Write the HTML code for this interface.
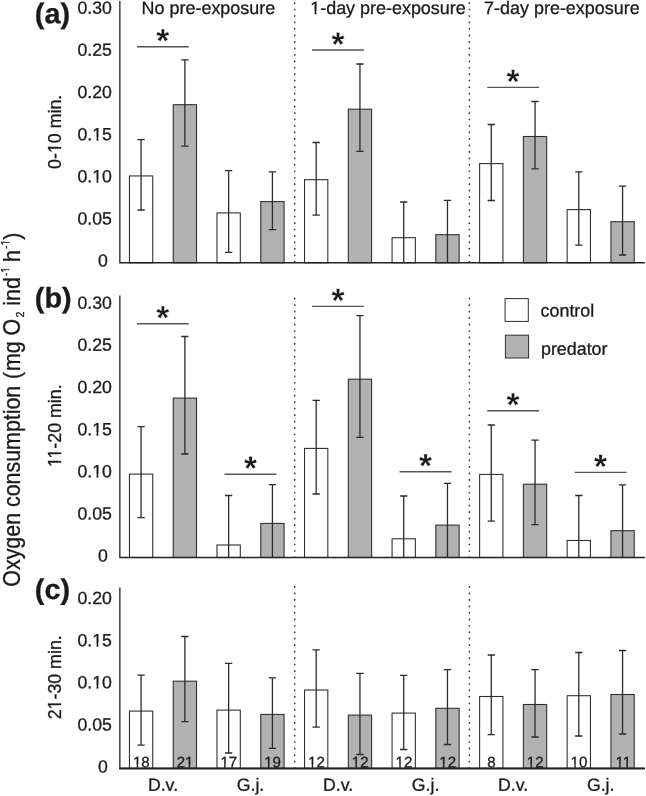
<!DOCTYPE html>
<html lang="en"><head><meta charset="utf-8"><title>Oxygen consumption</title>
<style>html,body{margin:0;padding:0;background:#fff}svg{display:block}text{font-family:"Liberation Sans",sans-serif;fill:#1a1a1a;stroke:#1a1a1a;stroke-width:.3px}</style></head><body>
<svg width="646" height="796" viewBox="0 0 646 796">
<rect width="646" height="796" fill="#fff"/>
<line x1="294.7" y1="2.2" x2="294.7" y2="262" stroke="#3a3a3a" stroke-width="1.45" stroke-dasharray="1.7 4.77"/>
<line x1="469.4" y1="2.2" x2="469.4" y2="262" stroke="#3a3a3a" stroke-width="1.45" stroke-dasharray="1.7 4.77"/>
<rect x="129.45" y="175.95" width="23.3" height="86.8" fill="#fff" stroke="#2e2e2e" stroke-width="1.08"/>
<rect x="173.22" y="104.7" width="23.3" height="158.05" fill="#b1b1b1" stroke="#2e2e2e" stroke-width="1.08"/>
<rect x="216.99" y="212.9" width="23.3" height="49.85" fill="#fff" stroke="#2e2e2e" stroke-width="1.08"/>
<rect x="260.76" y="201.6" width="23.3" height="61.15" fill="#b1b1b1" stroke="#2e2e2e" stroke-width="1.08"/>
<rect x="304.53" y="179.7" width="23.3" height="83.05" fill="#fff" stroke="#2e2e2e" stroke-width="1.08"/>
<rect x="348.3" y="109.2" width="23.3" height="153.55" fill="#b1b1b1" stroke="#2e2e2e" stroke-width="1.08"/>
<rect x="392.07" y="237.7" width="23.3" height="25.05" fill="#fff" stroke="#2e2e2e" stroke-width="1.08"/>
<rect x="435.84" y="234.7" width="23.3" height="28.05" fill="#b1b1b1" stroke="#2e2e2e" stroke-width="1.08"/>
<rect x="479.61" y="163.6" width="23.3" height="99.15" fill="#fff" stroke="#2e2e2e" stroke-width="1.08"/>
<rect x="523.38" y="136.5" width="23.3" height="126.25" fill="#b1b1b1" stroke="#2e2e2e" stroke-width="1.08"/>
<rect x="567.15" y="209.6" width="23.3" height="53.15" fill="#fff" stroke="#2e2e2e" stroke-width="1.08"/>
<rect x="610.92" y="221.7" width="23.3" height="41.05" fill="#b1b1b1" stroke="#2e2e2e" stroke-width="1.08"/>
<path d="M137.45 139.7H144.75M141.1 139.7V210M137.45 210H144.75" fill="none" stroke="#2b2b2b" stroke-width="1.3"/>
<path d="M181.22 59.8H188.52M184.87 59.8V146.2M181.22 146.2H188.52" fill="none" stroke="#2b2b2b" stroke-width="1.3"/>
<path d="M224.99 170.6H232.29M228.64 170.6V252.3M224.99 252.3H232.29" fill="none" stroke="#2b2b2b" stroke-width="1.3"/>
<path d="M268.76 171.8H276.06M272.41 171.8V229.6M268.76 229.6H276.06" fill="none" stroke="#2b2b2b" stroke-width="1.3"/>
<path d="M312.53 142.5H319.83M316.18 142.5V215.1M312.53 215.1H319.83" fill="none" stroke="#2b2b2b" stroke-width="1.3"/>
<path d="M356.3 64H363.6M359.95 64V151.3M356.3 151.3H363.6" fill="none" stroke="#2b2b2b" stroke-width="1.3"/>
<path d="M400.07 202H407.37M403.72 202V262.75" fill="none" stroke="#2b2b2b" stroke-width="1.3"/>
<path d="M443.84 200.3H451.14M447.49 200.3V262.75" fill="none" stroke="#2b2b2b" stroke-width="1.3"/>
<path d="M487.61 124.5H494.91M491.26 124.5V200.5M487.61 200.5H494.91" fill="none" stroke="#2b2b2b" stroke-width="1.3"/>
<path d="M531.38 101.5H538.68M535.03 101.5V168.8M531.38 168.8H538.68" fill="none" stroke="#2b2b2b" stroke-width="1.3"/>
<path d="M575.15 171.8H582.45M578.8 171.8V245.2M575.15 245.2H582.45" fill="none" stroke="#2b2b2b" stroke-width="1.3"/>
<path d="M618.92 186.1H626.22M622.57 186.1V255M618.92 255H626.22" fill="none" stroke="#2b2b2b" stroke-width="1.3"/>
<path d="M119.85 1V262.75H644.9" fill="none" stroke="#222" stroke-width="1.3" stroke-linejoin="miter"/>
<line x1="137" y1="46.7" x2="188.87" y2="46.7" stroke="#555" stroke-width="1.4"/>
<g transform="translate(162.84 52.1) rotate(0.03)"><text font-size="33.3" font-weight="bold" text-anchor="middle" style="stroke:#fff;stroke-width:.3px">*</text></g>
<line x1="312.08" y1="50" x2="363.95" y2="50" stroke="#555" stroke-width="1.4"/>
<g transform="translate(337.92 55.4) rotate(0.03)"><text font-size="33.3" font-weight="bold" text-anchor="middle" style="stroke:#fff;stroke-width:.3px">*</text></g>
<line x1="487.16" y1="87.4" x2="539.03" y2="87.4" stroke="#555" stroke-width="1.4"/>
<g transform="translate(513 92.8) rotate(0.03)"><text font-size="33.3" font-weight="bold" text-anchor="middle" style="stroke:#fff;stroke-width:.3px">*</text></g>
<line x1="294.7" y1="297.8" x2="294.7" y2="557" stroke="#3a3a3a" stroke-width="1.45" stroke-dasharray="1.7 4.77"/>
<line x1="469.4" y1="297.8" x2="469.4" y2="557" stroke="#3a3a3a" stroke-width="1.45" stroke-dasharray="1.7 4.77"/>
<rect x="129.45" y="474.1" width="23.3" height="83.4" fill="#fff" stroke="#2e2e2e" stroke-width="1.08"/>
<rect x="173.22" y="398.1" width="23.3" height="159.4" fill="#b1b1b1" stroke="#2e2e2e" stroke-width="1.08"/>
<rect x="216.99" y="545" width="23.3" height="12.5" fill="#fff" stroke="#2e2e2e" stroke-width="1.08"/>
<rect x="260.76" y="523.4" width="23.3" height="34.1" fill="#b1b1b1" stroke="#2e2e2e" stroke-width="1.08"/>
<rect x="304.53" y="448.4" width="23.3" height="109.1" fill="#fff" stroke="#2e2e2e" stroke-width="1.08"/>
<rect x="348.3" y="379.2" width="23.3" height="178.3" fill="#b1b1b1" stroke="#2e2e2e" stroke-width="1.08"/>
<rect x="392.07" y="538.8" width="23.3" height="18.7" fill="#fff" stroke="#2e2e2e" stroke-width="1.08"/>
<rect x="435.84" y="525.1" width="23.3" height="32.4" fill="#b1b1b1" stroke="#2e2e2e" stroke-width="1.08"/>
<rect x="479.61" y="474.4" width="23.3" height="83.1" fill="#fff" stroke="#2e2e2e" stroke-width="1.08"/>
<rect x="523.38" y="484.2" width="23.3" height="73.3" fill="#b1b1b1" stroke="#2e2e2e" stroke-width="1.08"/>
<rect x="567.15" y="540.5" width="23.3" height="17" fill="#fff" stroke="#2e2e2e" stroke-width="1.08"/>
<rect x="610.92" y="530.7" width="23.3" height="26.8" fill="#b1b1b1" stroke="#2e2e2e" stroke-width="1.08"/>
<path d="M137.45 426.6H144.75M141.1 426.6V517.6M137.45 517.6H144.75" fill="none" stroke="#2b2b2b" stroke-width="1.3"/>
<path d="M181.22 336.5H188.52M184.87 336.5V454M181.22 454H188.52" fill="none" stroke="#2b2b2b" stroke-width="1.3"/>
<path d="M224.99 495.5H232.29M228.64 495.5V557.5" fill="none" stroke="#2b2b2b" stroke-width="1.3"/>
<path d="M268.76 484.7H276.06M272.41 484.7V557.5" fill="none" stroke="#2b2b2b" stroke-width="1.3"/>
<path d="M312.53 400.3H319.83M316.18 400.3V494M312.53 494H319.83" fill="none" stroke="#2b2b2b" stroke-width="1.3"/>
<path d="M356.3 315.7H363.6M359.95 315.7V437.3M356.3 437.3H363.6" fill="none" stroke="#2b2b2b" stroke-width="1.3"/>
<path d="M400.07 496H407.37M403.72 496V557.5" fill="none" stroke="#2b2b2b" stroke-width="1.3"/>
<path d="M443.84 483.4H451.14M447.49 483.4V557.5" fill="none" stroke="#2b2b2b" stroke-width="1.3"/>
<path d="M487.61 425H494.91M491.26 425V521.1M487.61 521.1H494.91" fill="none" stroke="#2b2b2b" stroke-width="1.3"/>
<path d="M531.38 440.1H538.68M535.03 440.1V524.6M531.38 524.6H538.68" fill="none" stroke="#2b2b2b" stroke-width="1.3"/>
<path d="M575.15 495.5H582.45M578.8 495.5V557.5" fill="none" stroke="#2b2b2b" stroke-width="1.3"/>
<path d="M618.92 484.9H626.22M622.57 484.9V557.5" fill="none" stroke="#2b2b2b" stroke-width="1.3"/>
<path d="M119.85 295.6V557.5H644.9" fill="none" stroke="#222" stroke-width="1.3" stroke-linejoin="miter"/>
<line x1="137" y1="323.7" x2="188.87" y2="323.7" stroke="#555" stroke-width="1.4"/>
<g transform="translate(162.84 329.1) rotate(0.03)"><text font-size="33.3" font-weight="bold" text-anchor="middle" style="stroke:#fff;stroke-width:.3px">*</text></g>
<line x1="224.54" y1="474.2" x2="276.41" y2="474.2" stroke="#555" stroke-width="1.4"/>
<g transform="translate(250.37 479.6) rotate(0.03)"><text font-size="33.3" font-weight="bold" text-anchor="middle" style="stroke:#fff;stroke-width:.3px">*</text></g>
<line x1="312.08" y1="306.4" x2="363.95" y2="306.4" stroke="#555" stroke-width="1.4"/>
<g transform="translate(337.92 311.8) rotate(0.03)"><text font-size="33.3" font-weight="bold" text-anchor="middle" style="stroke:#fff;stroke-width:.3px">*</text></g>
<line x1="399.62" y1="471.7" x2="451.49" y2="471.7" stroke="#555" stroke-width="1.4"/>
<g transform="translate(425.46 477.1) rotate(0.03)"><text font-size="33.3" font-weight="bold" text-anchor="middle" style="stroke:#fff;stroke-width:.3px">*</text></g>
<line x1="487.16" y1="410.7" x2="539.03" y2="410.7" stroke="#555" stroke-width="1.4"/>
<g transform="translate(513 416.1) rotate(0.03)"><text font-size="33.3" font-weight="bold" text-anchor="middle" style="stroke:#fff;stroke-width:.3px">*</text></g>
<line x1="574.7" y1="472.4" x2="626.57" y2="472.4" stroke="#555" stroke-width="1.4"/>
<g transform="translate(600.54 477.8) rotate(0.03)"><text font-size="33.3" font-weight="bold" text-anchor="middle" style="stroke:#fff;stroke-width:.3px">*</text></g>
<line x1="294.7" y1="586.1" x2="294.7" y2="768" stroke="#3a3a3a" stroke-width="1.45" stroke-dasharray="1.7 4.77"/>
<line x1="469.4" y1="586.1" x2="469.4" y2="768" stroke="#3a3a3a" stroke-width="1.45" stroke-dasharray="1.7 4.77"/>
<rect x="129.45" y="711.1" width="23.3" height="57.3" fill="#fff" stroke="#2e2e2e" stroke-width="1.08"/>
<rect x="173.22" y="681.2" width="23.3" height="87.2" fill="#b1b1b1" stroke="#2e2e2e" stroke-width="1.08"/>
<rect x="216.99" y="710.1" width="23.3" height="58.3" fill="#fff" stroke="#2e2e2e" stroke-width="1.08"/>
<rect x="260.76" y="714.4" width="23.3" height="54" fill="#b1b1b1" stroke="#2e2e2e" stroke-width="1.08"/>
<rect x="304.53" y="690" width="23.3" height="78.4" fill="#fff" stroke="#2e2e2e" stroke-width="1.08"/>
<rect x="348.3" y="715.1" width="23.3" height="53.3" fill="#b1b1b1" stroke="#2e2e2e" stroke-width="1.08"/>
<rect x="392.07" y="713.1" width="23.3" height="55.3" fill="#fff" stroke="#2e2e2e" stroke-width="1.08"/>
<rect x="435.84" y="708.3" width="23.3" height="60.1" fill="#b1b1b1" stroke="#2e2e2e" stroke-width="1.08"/>
<rect x="479.61" y="696.5" width="23.3" height="71.9" fill="#fff" stroke="#2e2e2e" stroke-width="1.08"/>
<rect x="523.38" y="704.5" width="23.3" height="63.9" fill="#b1b1b1" stroke="#2e2e2e" stroke-width="1.08"/>
<rect x="567.15" y="695.7" width="23.3" height="72.7" fill="#fff" stroke="#2e2e2e" stroke-width="1.08"/>
<rect x="610.92" y="694.5" width="23.3" height="73.9" fill="#b1b1b1" stroke="#2e2e2e" stroke-width="1.08"/>
<path d="M137.45 675.1H144.75M141.1 675.1V745.2M137.45 745.2H144.75" fill="none" stroke="#2b2b2b" stroke-width="1.3"/>
<path d="M181.22 636.5H188.52M184.87 636.5V721.6M181.22 721.6H188.52" fill="none" stroke="#2b2b2b" stroke-width="1.3"/>
<path d="M224.99 663.3H232.29M228.64 663.3V753M224.99 753H232.29" fill="none" stroke="#2b2b2b" stroke-width="1.3"/>
<path d="M268.76 677.9H276.06M272.41 677.9V748.3M268.76 748.3H276.06" fill="none" stroke="#2b2b2b" stroke-width="1.3"/>
<path d="M312.53 649.8H319.83M316.18 649.8V727.2M312.53 727.2H319.83" fill="none" stroke="#2b2b2b" stroke-width="1.3"/>
<path d="M356.3 673.4H363.6M359.95 673.4V754.5M356.3 754.5H363.6" fill="none" stroke="#2b2b2b" stroke-width="1.3"/>
<path d="M400.07 675.4H407.37M403.72 675.4V749.5M400.07 749.5H407.37" fill="none" stroke="#2b2b2b" stroke-width="1.3"/>
<path d="M443.84 669.6H451.14M447.49 669.6V744.5M443.84 744.5H451.14" fill="none" stroke="#2b2b2b" stroke-width="1.3"/>
<path d="M487.61 655H494.91M491.26 655V734.7M487.61 734.7H494.91" fill="none" stroke="#2b2b2b" stroke-width="1.3"/>
<path d="M531.38 669.6H538.68M535.03 669.6V737M531.38 737H538.68" fill="none" stroke="#2b2b2b" stroke-width="1.3"/>
<path d="M575.15 652.5H582.45M578.8 652.5V736M575.15 736H582.45" fill="none" stroke="#2b2b2b" stroke-width="1.3"/>
<path d="M618.92 650.5H626.22M622.57 650.5V734M618.92 734H626.22" fill="none" stroke="#2b2b2b" stroke-width="1.3"/>
<g transform="translate(141.3 767.2) rotate(0.03)"><text font-size="15.1" text-anchor="middle">18</text><rect x="-8.15" y="-2.73" width="3.4" height="3.93" fill="#fff"/><rect x="-3.12" y="-2.73" width="3.18" height="3.93" fill="#fff"/></g>
<g transform="translate(185.07 767.2) rotate(0.03)"><text font-size="15.1" text-anchor="middle">21</text><rect x="0.24" y="-2.73" width="3.4" height="3.93" fill="#b1b1b1"/><rect x="5.27" y="-2.73" width="3.18" height="3.93" fill="#b1b1b1"/></g>
<g transform="translate(228.84 767.2) rotate(0.03)"><text font-size="15.1" text-anchor="middle">17</text><rect x="-8.15" y="-2.73" width="3.4" height="3.93" fill="#fff"/><rect x="-3.12" y="-2.73" width="3.18" height="3.93" fill="#fff"/></g>
<g transform="translate(272.61 767.2) rotate(0.03)"><text font-size="15.1" text-anchor="middle">19</text><rect x="-8.15" y="-2.73" width="3.4" height="3.93" fill="#b1b1b1"/><rect x="-3.12" y="-2.73" width="3.18" height="3.93" fill="#b1b1b1"/></g>
<g transform="translate(316.38 767.2) rotate(0.03)"><text font-size="15.1" text-anchor="middle">12</text><rect x="-8.15" y="-2.73" width="3.4" height="3.93" fill="#fff"/><rect x="-3.12" y="-2.73" width="3.18" height="3.93" fill="#fff"/></g>
<g transform="translate(360.15 767.2) rotate(0.03)"><text font-size="15.1" text-anchor="middle">12</text><rect x="-8.15" y="-2.73" width="3.4" height="3.93" fill="#b1b1b1"/><rect x="-3.12" y="-2.73" width="3.18" height="3.93" fill="#b1b1b1"/></g>
<g transform="translate(403.92 767.2) rotate(0.03)"><text font-size="15.1" text-anchor="middle">12</text><rect x="-8.15" y="-2.73" width="3.4" height="3.93" fill="#fff"/><rect x="-3.12" y="-2.73" width="3.18" height="3.93" fill="#fff"/></g>
<g transform="translate(447.69 767.2) rotate(0.03)"><text font-size="15.1" text-anchor="middle">12</text><rect x="-8.15" y="-2.73" width="3.4" height="3.93" fill="#b1b1b1"/><rect x="-3.12" y="-2.73" width="3.18" height="3.93" fill="#b1b1b1"/></g>
<g transform="translate(491.46 767.2) rotate(0.03)"><text font-size="15.1" text-anchor="middle">8</text></g>
<g transform="translate(535.23 767.2) rotate(0.03)"><text font-size="15.1" text-anchor="middle">12</text><rect x="-8.15" y="-2.73" width="3.4" height="3.93" fill="#b1b1b1"/><rect x="-3.12" y="-2.73" width="3.18" height="3.93" fill="#b1b1b1"/></g>
<g transform="translate(579 767.2) rotate(0.03)"><text font-size="15.1" text-anchor="middle">10</text><rect x="-8.15" y="-2.73" width="3.4" height="3.93" fill="#fff"/><rect x="-3.12" y="-2.73" width="3.18" height="3.93" fill="#fff"/></g>
<g transform="translate(623.27 767.2) rotate(0.03)"><text font-size="15.1" text-anchor="middle">11</text><rect x="-7.59" y="-2.73" width="3.4" height="3.93" fill="#b1b1b1"/><rect x="-2.55" y="-2.73" width="3.18" height="3.93" fill="#b1b1b1"/><rect x="-0.32" y="-2.73" width="3.4" height="3.93" fill="#b1b1b1"/><rect x="4.71" y="-2.73" width="3.18" height="3.93" fill="#b1b1b1"/></g>
<path d="M119.85 587.6V768.4H644.9" fill="none" stroke="#222" stroke-width="1.3" stroke-linejoin="miter"/>
<line x1="119.25" y1="768.4" x2="644.9" y2="768.4" stroke="#222" stroke-width="2"/>
<g transform="translate(107.9 266.6) rotate(0.03)"><text font-size="17.7" text-anchor="end">0</text></g>
<g transform="translate(111.9 224.45) rotate(0.03)"><text font-size="17.7" text-anchor="end">0.05</text></g>
<g transform="translate(111.9 182.3) rotate(0.03)"><text font-size="17.7" text-anchor="end">0.10</text><rect x="-19.24" y="-2.92" width="3.85" height="4.12" fill="#fff"/><rect x="-13.52" y="-2.92" width="3.61" height="4.12" fill="#fff"/></g>
<g transform="translate(111.9 140.15) rotate(0.03)"><text font-size="17.7" text-anchor="end">0.15</text><rect x="-19.24" y="-2.92" width="3.85" height="4.12" fill="#fff"/><rect x="-13.52" y="-2.92" width="3.61" height="4.12" fill="#fff"/></g>
<g transform="translate(111.9 98) rotate(0.03)"><text font-size="17.7" text-anchor="end">0.20</text></g>
<g transform="translate(111.9 55.85) rotate(0.03)"><text font-size="17.7" text-anchor="end">0.25</text></g>
<g transform="translate(111.9 13.7) rotate(0.03)"><text font-size="17.7" text-anchor="end">0.30</text></g>
<g transform="translate(107.9 561.6) rotate(0.03)"><text font-size="17.7" text-anchor="end">0</text></g>
<g transform="translate(111.9 519.45) rotate(0.03)"><text font-size="17.7" text-anchor="end">0.05</text></g>
<g transform="translate(111.9 477.3) rotate(0.03)"><text font-size="17.7" text-anchor="end">0.10</text><rect x="-19.24" y="-2.92" width="3.85" height="4.12" fill="#fff"/><rect x="-13.52" y="-2.92" width="3.61" height="4.12" fill="#fff"/></g>
<g transform="translate(111.9 435.15) rotate(0.03)"><text font-size="17.7" text-anchor="end">0.15</text><rect x="-19.24" y="-2.92" width="3.85" height="4.12" fill="#fff"/><rect x="-13.52" y="-2.92" width="3.61" height="4.12" fill="#fff"/></g>
<g transform="translate(111.9 393) rotate(0.03)"><text font-size="17.7" text-anchor="end">0.20</text></g>
<g transform="translate(111.9 350.85) rotate(0.03)"><text font-size="17.7" text-anchor="end">0.25</text></g>
<g transform="translate(111.9 308.7) rotate(0.03)"><text font-size="17.7" text-anchor="end">0.30</text></g>
<g transform="translate(107.9 772.6) rotate(0.03)"><text font-size="17.7" text-anchor="end">0</text></g>
<g transform="translate(111.9 730.45) rotate(0.03)"><text font-size="17.7" text-anchor="end">0.05</text></g>
<g transform="translate(111.9 688.3) rotate(0.03)"><text font-size="17.7" text-anchor="end">0.10</text><rect x="-19.24" y="-2.92" width="3.85" height="4.12" fill="#fff"/><rect x="-13.52" y="-2.92" width="3.61" height="4.12" fill="#fff"/></g>
<g transform="translate(111.9 646.15) rotate(0.03)"><text font-size="17.7" text-anchor="end">0.15</text><rect x="-19.24" y="-2.92" width="3.85" height="4.12" fill="#fff"/><rect x="-13.52" y="-2.92" width="3.61" height="4.12" fill="#fff"/></g>
<g transform="translate(111.9 604) rotate(0.03)"><text font-size="17.7" text-anchor="end">0.20</text></g>
<g transform="translate(34.8 23.3) scale(1.02 1) rotate(0.03)"><text font-size="28.3" font-weight="bold">(a)</text></g>
<g transform="translate(34.8 307.5) scale(1.02 1) rotate(0.03)"><text font-size="28.3" font-weight="bold">(b)</text></g>
<g transform="translate(34.8 599.1) scale(1.02 1) rotate(0.03)"><text font-size="28.3" font-weight="bold">(c)</text></g>
<g transform="translate(61.2 168.9) scale(1.04 1) rotate(-90)"><text font-size="17.8">0-10 min.</text><rect x="16.26" y="-2.93" width="3.87" height="4.13" fill="#fff"/><rect x="22.01" y="-2.93" width="3.63" height="4.13" fill="#fff"/></g>
<g transform="translate(61.2 467.1) scale(1.04 1) rotate(-90)"><text font-size="17.8">11-20 min.</text><rect x="0.46" y="-2.93" width="3.87" height="4.13" fill="#fff"/><rect x="6.2" y="-2.93" width="3.63" height="4.13" fill="#fff"/><rect x="9.02" y="-2.93" width="3.87" height="4.13" fill="#fff"/><rect x="14.76" y="-2.93" width="3.63" height="4.13" fill="#fff"/></g>
<g transform="translate(61.2 719.3) scale(1.04 1) rotate(-90)"><text font-size="17.8">21-30 min.</text><rect x="10.33" y="-2.93" width="3.87" height="4.13" fill="#fff"/><rect x="16.08" y="-2.93" width="3.63" height="4.13" fill="#fff"/></g>
<g transform="translate(19.9 586.7) scale(1.08 1) rotate(-90)"><text font-size="21.4">Oxygen consumption<tspan dx="0.8"> (</tspan><tspan dx="0.8">mg O</tspan><tspan font-size="10.7" dy="4" dx="1.2">2</tspan><tspan dy="-4"> ind</tspan><tspan font-size="10.5" dy="-10.4" dx="0.8">-1</tspan><tspan dy="10.4" dx="-1"> h</tspan><tspan font-size="10.5" dy="-10.4" dx="1.1">-1</tspan><tspan dy="10.4">)</tspan></text><rect x="313.79" y="-12.78" width="2.59" height="3.58" fill="#fff"/><rect x="317.61" y="-12.78" width="2.41" height="3.58" fill="#fff"/><rect x="341.06" y="-12.78" width="2.59" height="3.58" fill="#fff"/><rect x="344.88" y="-12.78" width="2.41" height="3.58" fill="#fff"/></g>
<g transform="translate(141.6 14) rotate(0.03)"><text font-size="17.95">No pre-exposure</text></g>
<g transform="translate(310.2 14) rotate(0.03)"><text font-size="17.95">1-day pre-exposure</text><rect x="0.47" y="-2.94" width="3.9" height="4.14" fill="#fff"/><rect x="6.25" y="-2.94" width="3.66" height="4.14" fill="#fff"/></g>
<g transform="translate(484.1 14) rotate(0.03)"><text font-size="17.95">7-day pre-exposure</text></g>
<rect x="505.1" y="298.6" width="23.2" height="22.8" fill="#fff" stroke="#2e2e2e" stroke-width="1"/>
<rect x="505.4" y="335.2" width="23.2" height="22.8" fill="#b1b1b1" stroke="#2e2e2e" stroke-width="1"/>
<g transform="translate(540.6 316.4) scale(1.01 1) rotate(0.03)"><text font-size="17.7">control</text></g>
<g transform="translate(541 354.7) scale(1.01 1) rotate(0.03)"><text font-size="17.7">predator</text></g>
<g transform="translate(162.99 790.8) rotate(0.03)"><text font-size="17.7" text-anchor="middle">D.v.</text></g>
<g transform="translate(250.52 790.8) rotate(0.03)"><text font-size="17.7" text-anchor="middle">G.j.</text></g>
<g transform="translate(338.07 790.8) rotate(0.03)"><text font-size="17.7" text-anchor="middle">D.v.</text></g>
<g transform="translate(425.61 790.8) rotate(0.03)"><text font-size="17.7" text-anchor="middle">G.j.</text></g>
<g transform="translate(513.14 790.8) rotate(0.03)"><text font-size="17.7" text-anchor="middle">D.v.</text></g>
<g transform="translate(600.69 790.8) rotate(0.03)"><text font-size="17.7" text-anchor="middle">G.j.</text></g>
</svg></body></html>
